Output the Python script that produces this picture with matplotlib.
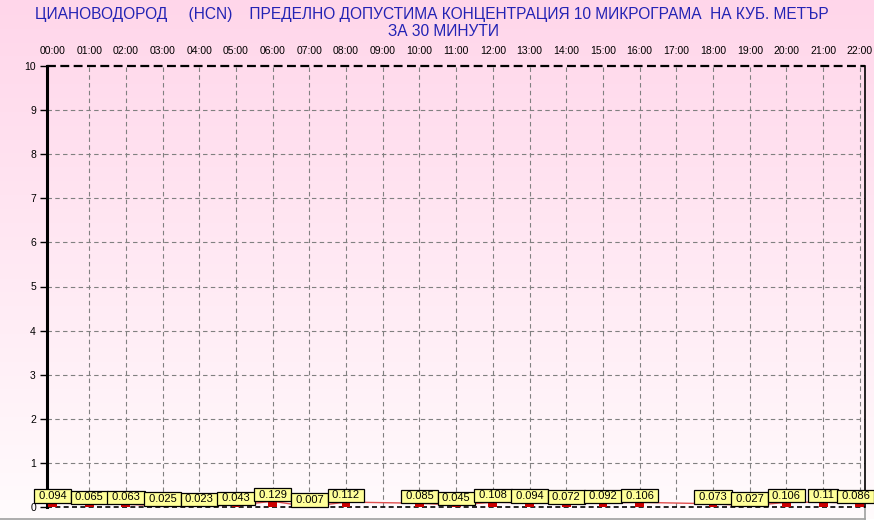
import numpy as np
import matplotlib
matplotlib.use("Agg")
import matplotlib.pyplot as plt
from matplotlib.lines import Line2D

plt.rcParams['font.family'] = ['Liberation Sans', 'DejaVu Sans']

hours = ['00:00', '01:00', '02:00', '03:00', '04:00', '05:00', '06:00', '07:00',
         '08:00', '09:00', '10:00', '11:00', '12:00', '13:00', '14:00', '15:00',
         '16:00', '17:00', '18:00', '19:00', '20:00', '21:00', '22:00']
values = [0.094, 0.065, 0.063, 0.025, 0.023, 0.043, 0.129, 0.007,
          0.112, None, 0.085, 0.045, 0.108, 0.094, 0.072, 0.092,
          0.106, None, 0.073, 0.027, 0.106, 0.11, 0.086]
value_labels = ['0.094', '0.065', '0.063', '0.025', '0.023', '0.043', '0.129', '0.007',
                '0.112', '', '0.085', '0.045', '0.108', '0.094', '0.072', '0.092',
                '0.106', '', '0.073', '0.027', '0.106', '0.11', '0.086']
title_1 = 'ЦИАНОВОДОРОД     (HCN)    ПРЕДЕЛНО ДОПУСТИМА КОНЦЕНТРАЦИЯ 10 МИКРОГРАМА  НА КУБ. МЕТЪР'
title_2 = 'ЗА 30 МИНУТИ'

W, H = 874, 529
fig = plt.figure(figsize=(W / 100, H / 100), dpi=100)

# pink -> white background gradient
bg = fig.add_axes([0, 0, 1, 1], zorder=-10)
bg.set_axis_off()
t = np.linspace(0, 1, 256)[:, None]
top = np.array([255, 214, 234]) / 255
bot = np.array([255, 252, 253]) / 255
grad = top[None, None, :] * (1 - t[:, :, None]) + bot[None, None, :] * t[:, :, None]
grad = np.repeat(grad, 2, axis=1)
bg.imshow(grad, aspect='auto', extent=[0, 1, 0, 1])
bg.set_xlim(0, 1)
bg.set_ylim(0, 1)
bg.fill_between([0, 1], 0, 10 / H, color='white', zorder=2)
bg.add_line(Line2D([0, 865 / W], [10 / H, 10 / H], color='#a0a0a0', lw=1.2, zorder=3))
bg.add_line(Line2D([865 / W, 865 / W], [10 / H, 22 / H], color='#a0a0a0', lw=1.2, zorder=3))

ax = fig.add_axes([47 / W, 22 / H, (865 - 47) / W, (507 - 66) / H])
ax.patch.set_alpha(0)

x = np.arange(len(hours))
xs = [i for i, v in enumerate(values) if v is not None]
vs = [v for v in values if v is not None]

ax.plot(xs, vs, color='#e05050', lw=1, zorder=3)
ax.bar(xs, vs, width=0.24, color='#cc0000', zorder=4)

for i, v in zip(xs, vs):
    dx = -3 if i == len(hours) - 1 else 0
    ax.annotate(' ' + value_labels[i] + ' ', (i, v + 0.04), xytext=(dx, 0),
                textcoords='offset points', ha='center', va='bottom', fontsize=8,
                bbox=dict(boxstyle='square,pad=0.15', fc='#ffff99', ec='black', lw=0.9),
                zorder=5, annotation_clip=False)

ax.set_xlim(-0.15, 22.14)
ax.set_ylim(0, 10)
ax.set_xticks(x)
ax.set_xticklabels(hours, fontsize=7.5)
ax.xaxis.tick_top()
ax.tick_params(axis='x', length=0, pad=7)
ax.set_yticks(range(11))
ax.tick_params(axis='y', labelsize=7.5, length=5, width=1, pad=3)

for i in range(1, 23):
    ax.axvline(i, color='#808080', lw=0.8, ls=(0, (4, 3)), zorder=1)
for j in range(1, 10):
    ax.axhline(j, color='#808080', lw=0.8, ls=(0, (4, 3)), zorder=1)
ax.axhline(10, color='black', lw=1.6, ls=(0, (4, 2)), zorder=2, clip_on=False)
ax.axhline(0, color='black', lw=1.2, ls=(0, (3, 2)), zorder=2, clip_on=False)

for s in ['top', 'bottom']:
    ax.spines[s].set_visible(False)
ax.spines['left'].set_linewidth(2.2)
ax.spines['right'].set_linewidth(1.2)

fig.text(0.494, 1 - 15 / H, title_1, ha='center', va='center', fontsize=11.2, color='#2323b4')
fig.text(0.507, 1 - 31 / H, title_2, ha='center', va='center', fontsize=11.2, color='#2323b4')

fig.savefig('out.png', dpi=100)
